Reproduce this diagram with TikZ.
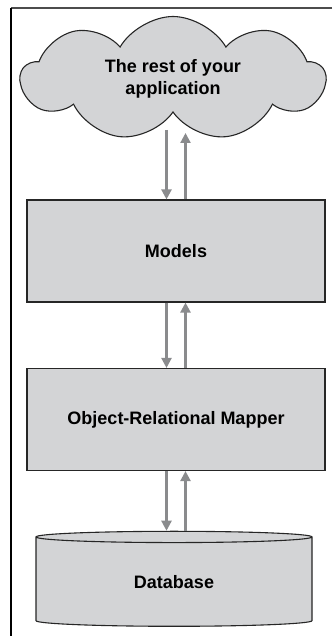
\documentclass[tikz,border=0pt]{standalone}
\usepackage{fontspec}
\setmainfont{Liberation Sans}
\usetikzlibrary{shapes.symbols,shapes.geometric,arrows.meta}

\definecolor{boxgray}{HTML}{D3D4D6}
\definecolor{flowgray}{HTML}{8A8B8D}

\tikzset{
    layer/.style={draw=black!85, line width=1.1pt, fill=boxgray,
        font=\fontsize{18}{22}\selectfont\bfseries, align=center},
    box/.style={layer, rectangle, minimum width=298pt, minimum height=102pt},
    flow/.style={draw=flowgray, line width=2.2pt,
        -{Triangle[width=10pt,length=10pt]}},
}

\begin{document}
\begin{tikzpicture}[x=1pt, y=-1pt]
        % ==== CANVAS ====
        \useasboundingbox (0,0) rectangle (332,636);
        \draw[line width=1.2pt, black!70] (332,8) -- (11,8);
        \draw[line width=1.2pt] (11,8) -- (11,636);

        % ==== LAYERS ====
        \node[layer, cloud, cloud puffs=9, cloud puff arc=120, cloud ignores aspect,
              minimum width=304pt, minimum height=124pt,
              inner sep=0pt] (app) at (173,78.5) {The rest of your\\application};
        \node[box] (models) at (176,251) {Models};
        \node[box] (orm) at (176,419.5) {Object-Relational Mapper};
        \node[layer, cylinder, shape border rotate=90, aspect=0.13,
              minimum width=276pt, minimum height=95pt] (db) at (174,582.5) {Database};

        % ==== CLOUD BASE ====
        \coordinate (appbase) at (176,130);

        % ==== DOWN ARROWS ====
        \draw[flow] ([xshift=-9.5pt]models.north |- appbase) -- ([xshift=-9.5pt]models.north);
        \draw[flow] ([xshift=-9.5pt]models.south) -- ([xshift=-9.5pt]orm.north);
        \draw[flow] ([xshift=-9.5pt]orm.south) -- ([xshift=-9.5pt]orm.south |- db.north);

        % ==== UP ARROWS ====
        \draw[flow, shorten >=3pt] ([xshift=9.5pt]models.north) -- ([xshift=9.5pt]models.north |- appbase);
        \draw[flow] ([xshift=9.5pt]orm.north) -- ([xshift=9.5pt]models.south);
        \draw[flow] ([xshift=9.5pt]orm.south |- db.north) -- ([xshift=9.5pt]orm.south);
\end{tikzpicture}
\end{document}
